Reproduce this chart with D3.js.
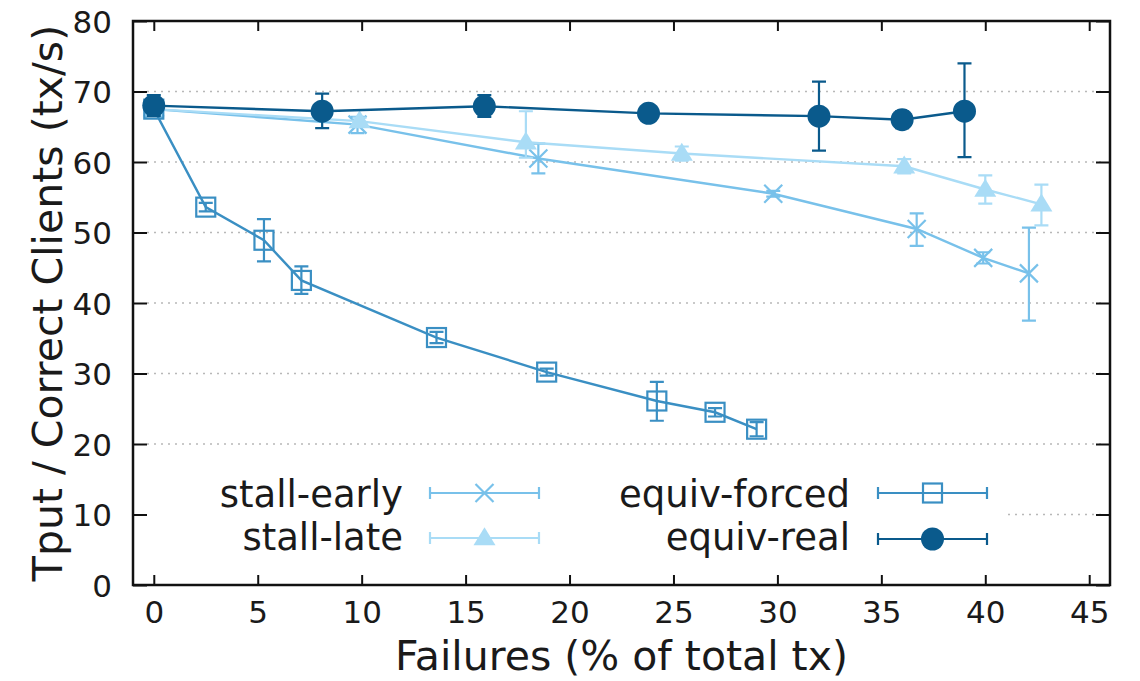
<!DOCTYPE html>
<html>
<head>
<meta charset="utf-8">
<script src="https://cdn.jsdelivr.net/npm/d3@7/dist/d3.min.js"></script>
<style>
  html, body { margin: 0; padding: 0; background: #fff; }
  svg { display: block; }
  text { font-family: "DejaVu Sans", sans-serif; fill: #1a1a1a; }
</style>
</head>
<body>
<svg id="chart" width="1140" height="681"></svg>
<script>
// ---- data ----
const xTicks = [0, 5, 10, 15, 20, 25, 30, 35, 40, 45];
const yTicks = [0, 10, 20, 30, 40, 50, 60, 70, 80];
const xLabel = "Failures (% of total tx)";
const yLabel = "Tput / Correct Clients (tx/s)";

const stallEarlyX  = [0, 9.8, 18.5, 29.8, 36.7, 39.9, 42.1];
const stallEarlyY  = [67.5, 65.3, 60.5, 55.5, 50.5, 46.4, 44.2];
const stallEarlyLo = [66.8, 64.1, 58.4, 55.1, 48.1, 45.6, 37.5];
const stallEarlyHi = [68.2, 66.4, 62.6, 55.9, 52.7, 47.2, 50.7];

const stallLateX  = [0, 9.9, 17.9, 25.4, 36.1, 40.0, 42.7];
const stallLateY  = [67.5, 65.8, 62.8, 61.2, 59.4, 56.1, 54.0];
const stallLateLo = [66.8, 65.3, 60.6, 60.2, 58.4, 54.1, 51.0];
const stallLateHi = [68.2, 66.3, 67.2, 62.2, 60.4, 58.1, 56.8];

const equivForcedX  = [0, 2.5, 5.3, 7.1, 13.6, 18.9, 24.2, 27.0, 29.0];
const equivForcedY  = [67.5, 53.6, 48.9, 43.2, 35.1, 30.2, 26.1, 24.5, 22.1];
const equivForcedLo = [66.8, 53.0, 45.9, 41.3, 34.3, 29.7, 23.3, 23.9, 21.1];
const equivForcedHi = [68.2, 54.2, 51.9, 45.2, 35.9, 30.7, 28.8, 25.1, 23.1];

const equivRealX  = [0, 8.1, 15.9, 23.8, 32.0, 36.0, 39.0];
const equivRealY  = [68.0, 67.2, 67.9, 66.9, 66.5, 66.0, 67.2];
const equivRealLo = [66.5, 64.8, 66.4, 66.4, 61.6, 64.8, 60.7];
const equivRealHi = [69.5, 69.7, 69.5, 67.4, 71.4, 67.2, 74.0];

const seriesNames = ["stall-early", "stall-late", "equiv-forced", "equiv-real"];

// ---- build series ----
function zipSeries(xs, ys, lo, hi) {
  return xs.map((x, i) => ({ x: x, y: ys[i], lo: lo[i], hi: hi[i] }));
}
const series = [
  { name: seriesNames[0], color: "#78c1ea", marker: "cross",    pts: zipSeries(stallEarlyX, stallEarlyY, stallEarlyLo, stallEarlyHi) },
  { name: seriesNames[1], color: "#a9dcf6", marker: "triangle", pts: zipSeries(stallLateX, stallLateY, stallLateLo, stallLateHi) },
  { name: seriesNames[2], color: "#3a8fc3", marker: "square",   pts: zipSeries(equivForcedX, equivForcedY, equivForcedLo, equivForcedHi) },
  { name: seriesNames[3], color: "#0a5a8c", marker: "circle",   pts: zipSeries(equivRealX, equivRealY, equivRealLo, equivRealHi) }
];

// ---- layout ----
const L = 133, R = 1110, T = 21, B = 585;
const x = d3.scaleLinear().domain([-1, 46]).range([L, R]);
const y = d3.scaleLinear().domain([0, 80]).range([B, T]);

const svg = d3.select("#chart");

// grid
const grid = svg.append("g");
grid.selectAll("line").data(yTicks.filter(v => v > 0 && v < 80)).enter().append("line")
  .attr("x1", L + 14).attr("x2", R - 4)
  .attr("y1", d => y(d)).attr("y2", d => y(d))
  .attr("stroke", "#b8b8b8").attr("stroke-width", 1.6)
  .attr("stroke-dasharray", "2,5");

// legend background (opaque key)
svg.append("rect").attr("x", 140).attr("y", 468).attr("width", 866).attr("height", 95).attr("fill", "#fff");

// axes
function styleAxis(g, showText) {
  g.select(".domain").remove();
  g.selectAll(".tick line").attr("stroke", "#111").attr("stroke-width", 2);
  if (!showText) g.selectAll(".tick text").remove();
}
svg.append("g").attr("transform", `translate(${L},0)`)
  .call(d3.axisLeft(y).tickValues(yTicks).tickSize(-14).tickPadding(21).tickFormat(d3.format("d")))
  .call(g => styleAxis(g, true))
  .call(g => g.selectAll(".tick text").attr("font-size", 31).attr("font-family", "DejaVu Sans").attr("fill", "#1a1a1a").attr("dy", "0.36em"));
svg.append("g").attr("transform", `translate(${R},0)`)
  .call(d3.axisRight(y).tickValues(yTicks).tickSize(-14))
  .call(g => styleAxis(g, false));
svg.append("g").attr("transform", `translate(0,${B})`)
  .call(d3.axisBottom(x).tickValues(xTicks).tickSize(-10).tickPadding(16).tickFormat(d3.format("d")))
  .call(g => styleAxis(g, true))
  .call(g => g.selectAll(".tick text").attr("font-size", 31).attr("font-family", "DejaVu Sans").attr("fill", "#1a1a1a"));
svg.append("g").attr("transform", `translate(0,${T})`)
  .call(d3.axisTop(x).tickValues(xTicks).tickSize(-10))
  .call(g => styleAxis(g, false));

// border
svg.append("rect").attr("x", L).attr("y", T).attr("width", R - L).attr("height", B - T)
  .attr("fill", "none").attr("stroke", "#111").attr("stroke-width", 2.5);

// axis labels
svg.append("text").attr("x", (L + R) / 2 + 0).attr("y", 670).attr("text-anchor", "middle")
  .attr("font-size", 41).text(xLabel);
svg.append("text").attr("transform", `translate(62,${(T + B) / 2}) rotate(-90)`)
  .attr("text-anchor", "middle").attr("font-size", 41).text(yLabel);

// markers
function drawMarker(g, type, cx, cy, color) {
  if (type === "cross") {
    const s = 9;
    g.append("path").attr("d", `M${cx - s},${cy - s}L${cx + s},${cy + s}M${cx - s},${cy + s}L${cx + s},${cy - s}`)
      .attr("stroke", color).attr("stroke-width", 2.2).attr("fill", "none");
  } else if (type === "triangle") {
    const w = 11, h = 18;
    g.append("path").attr("d", `M${cx},${cy - h * 0.6}L${cx + w},${cy + h * 0.4}L${cx - w},${cy + h * 0.4}Z`)
      .attr("fill", color);
  } else if (type === "square") {
    const s = 9.5;
    g.append("rect").attr("x", cx - s).attr("y", cy - s).attr("width", 2 * s).attr("height", 2 * s)
      .attr("fill", "none").attr("stroke", color).attr("stroke-width", 2.2);
  } else if (type === "circle") {
    g.append("circle").attr("cx", cx).attr("cy", cy).attr("r", 11.5).attr("fill", color);
  }
}

const line = d3.line().x(d => x(d.x)).y(d => y(d.y));
const plot = svg.append("g");
series.forEach(s => {
  const g = plot.append("g");
  g.append("path").datum(s.pts).attr("d", line)
    .attr("fill", "none").attr("stroke", s.color).attr("stroke-width", 2.4);
  s.pts.forEach(p => {
    const px = x(p.x), cap = 7;
    g.append("path")
      .attr("d", `M${px},${y(p.lo)}L${px},${y(p.hi)}M${px - cap},${y(p.lo)}L${px + cap},${y(p.lo)}M${px - cap},${y(p.hi)}L${px + cap},${y(p.hi)}`)
      .attr("stroke", s.color).attr("stroke-width", 2.2).attr("fill", "none");
    drawMarker(g, s.marker, px, y(p.y), s.color);
  });
});

// legend
const legendPos = [
  { tx: 403, ty: 507, lx1: 430, lx2: 539, ly: 493 },
  { tx: 403, ty: 550, lx1: 430, lx2: 539, ly: 538 },
  { tx: 850, ty: 507, lx1: 878, lx2: 987, ly: 493 },
  { tx: 850, ty: 550, lx1: 878, lx2: 987, ly: 539 }
];
series.forEach((s, i) => {
  const p = legendPos[i];
  const g = svg.append("g");
  g.append("text").attr("x", p.tx).attr("y", p.ty).attr("text-anchor", "end")
    .attr("font-size", 37).text(s.name);
  g.append("path")
    .attr("d", `M${p.lx1},${p.ly}L${p.lx2},${p.ly}M${p.lx1},${p.ly - 6}L${p.lx1},${p.ly + 6}M${p.lx2},${p.ly - 6}L${p.lx2},${p.ly + 6}`)
    .attr("stroke", s.color).attr("stroke-width", 2.2).attr("fill", "none");
  drawMarker(g, s.marker, (p.lx1 + p.lx2) / 2, p.ly, s.color);
});
</script>
</body>
</html>
